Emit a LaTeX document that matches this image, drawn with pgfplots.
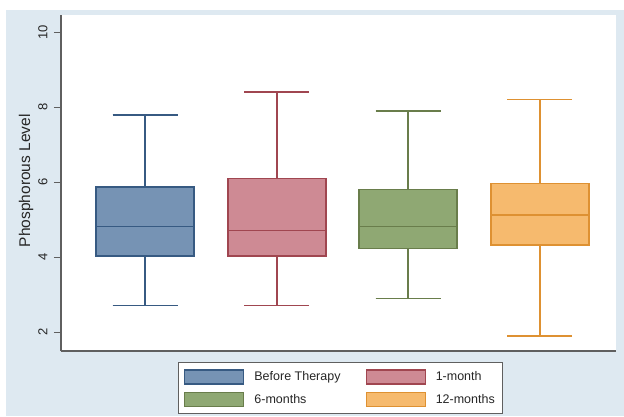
\documentclass[border=0pt]{standalone}
\usepackage{fontspec}
\setmainfont{Liberation Sans}
\usepackage{pgfplots}
\pgfplotsset{compat=1.18}
\usepgfplotslibrary{statistics}

\definecolor{bgblue}{RGB}{222,233,241}
\definecolor{axisgray}{RGB}{95,95,95}
\definecolor{bluefill}{RGB}{118,147,180}
\definecolor{bluedark}{RGB}{55,90,130}
\definecolor{redfill}{RGB}{206,138,148}
\definecolor{reddark}{RGB}{160,70,80}
\definecolor{greenfill}{RGB}{143,168,115}
\definecolor{greendark}{RGB}{105,125,75}
\definecolor{orangefill}{RGB}{246,186,110}
\definecolor{orangedark}{RGB}{222,145,50}

\begin{document}
\begin{tikzpicture}
\useasboundingbox (0,0) rectangle (624pt,416pt);
\fill[white] (0,0) rectangle (624pt,416pt);
\fill[bgblue] (6pt,0) rectangle (624pt,406pt);
\begin{axis}[
  at={(61pt,65pt)}, anchor=south west,
  scale only axis, width=555pt, height=336pt,
  xmin=0.36, xmax=4.58, ymin=1.5, ymax=10.46,
  axis x line*=bottom, axis y line*=left,
  axis line style={draw=axisgray, line width=1.5pt},
  axis background/.style={fill=white},
  xtick=\empty,
  ytick={2,4,6,8,10},
  tick align=outside, major tick length=7pt,
  tick style={draw=axisgray, line width=1.2pt},
  yticklabel style={rotate=90, anchor=south, font=\fontsize{13}{15}\selectfont, text=black!85},
  yticklabel shift=3pt,
  /pgf/number format/assume math mode=true,
  ylabel={Phosphorous Level},
  ylabel style={at={(axis description cs:-0.063,0.507)}, anchor=center, font=\fontsize{15.5}{18}\selectfont, text=black!85},
  boxplot/draw direction=y,
  boxplot/box extend=0.745,
  boxplot/whisker extend=0.494,
  boxplot/every box/.style={line width=1.7pt},
  boxplot/every whisker/.style={line width=1.7pt},
  boxplot/every median/.style={line width=1.7pt},
  boxplot/draw/median/.code={%
    \draw[/pgfplots/boxplot/every median/.try, line width=1.7pt]
      (boxplot box cs:\pgfplotsboxplotvalue{median},0) --
      (boxplot box cs:\pgfplotsboxplotvalue{median},1);},
  boxplot/draw/lower whisker/.code={%
    \draw[line width=1.7pt]
      (boxplot cs:\pgfplotsboxplotvalue{lower whisker}) --
      (boxplot cs:\pgfplotsboxplotvalue{lower quartile});
    \draw[line width=1.7pt]
      (boxplot whisker cs:\pgfplotsboxplotvalue{lower whisker},0) --
      (boxplot whisker cs:\pgfplotsboxplotvalue{lower whisker},1);},
  boxplot/draw/upper whisker/.code={%
    \draw[line width=1.7pt]
      (boxplot cs:\pgfplotsboxplotvalue{upper whisker}) --
      (boxplot cs:\pgfplotsboxplotvalue{upper quartile});
    \draw[line width=1.7pt]
      (boxplot whisker cs:\pgfplotsboxplotvalue{upper whisker},0) --
      (boxplot whisker cs:\pgfplotsboxplotvalue{upper whisker},1);},
  legend image code/.code={\draw[#1] (0pt,-7pt) rectangle (59pt,7pt);},
  legend columns=2,
  legend cell align=left,
  legend style={at={(0.5,0)}, anchor=north, yshift=-11pt, xshift=2pt,
    draw=axisgray, line width=0.9pt, fill=white, inner xsep=6pt, inner ysep=7pt,
    font=\fontsize{12.5}{15}\selectfont, text=black!85, row sep=7pt,
    /tikz/every odd column/.append style={column sep=8pt},
    /tikz/every even column/.append style={column sep=23pt}},
]
\addplot[boxplot prepared={draw position=1, lower whisker=2.71, lower quartile=4.04,
  median=4.82, upper quartile=5.88, upper whisker=7.80},
  draw=bluedark, fill=bluefill, line width=1.7pt, forget plot] coordinates {};
\addplot[boxplot prepared={draw position=2, lower whisker=2.71, lower quartile=4.04,
  median=4.71, upper quartile=6.10, upper whisker=8.40},
  draw=reddark, fill=redfill, line width=1.7pt, forget plot] coordinates {};
\addplot[boxplot prepared={draw position=3, lower whisker=2.90, lower quartile=4.23,
  median=4.82, upper quartile=5.81, upper whisker=7.90},
  draw=greendark, fill=greenfill, line width=1.7pt, forget plot] coordinates {};
\addplot[boxplot prepared={draw position=4, lower whisker=1.90, lower quartile=4.33,
  median=5.13, upper quartile=5.97, upper whisker=8.21},
  draw=orangedark, fill=orangefill, line width=1.7pt, forget plot] coordinates {};

\addlegendimage{draw=bluedark, fill=bluefill, line width=1.2pt}
\addlegendentry{Before Therapy}
\addlegendimage{draw=reddark, fill=redfill, line width=1.2pt}
\addlegendentry{1-month}
\addlegendimage{draw=greendark, fill=greenfill, line width=1.2pt}
\addlegendentry{6-months}
\addlegendimage{draw=orangedark, fill=orangefill, line width=1.2pt}
\addlegendentry{12-months}
\end{axis}
\end{tikzpicture}
\end{document}
